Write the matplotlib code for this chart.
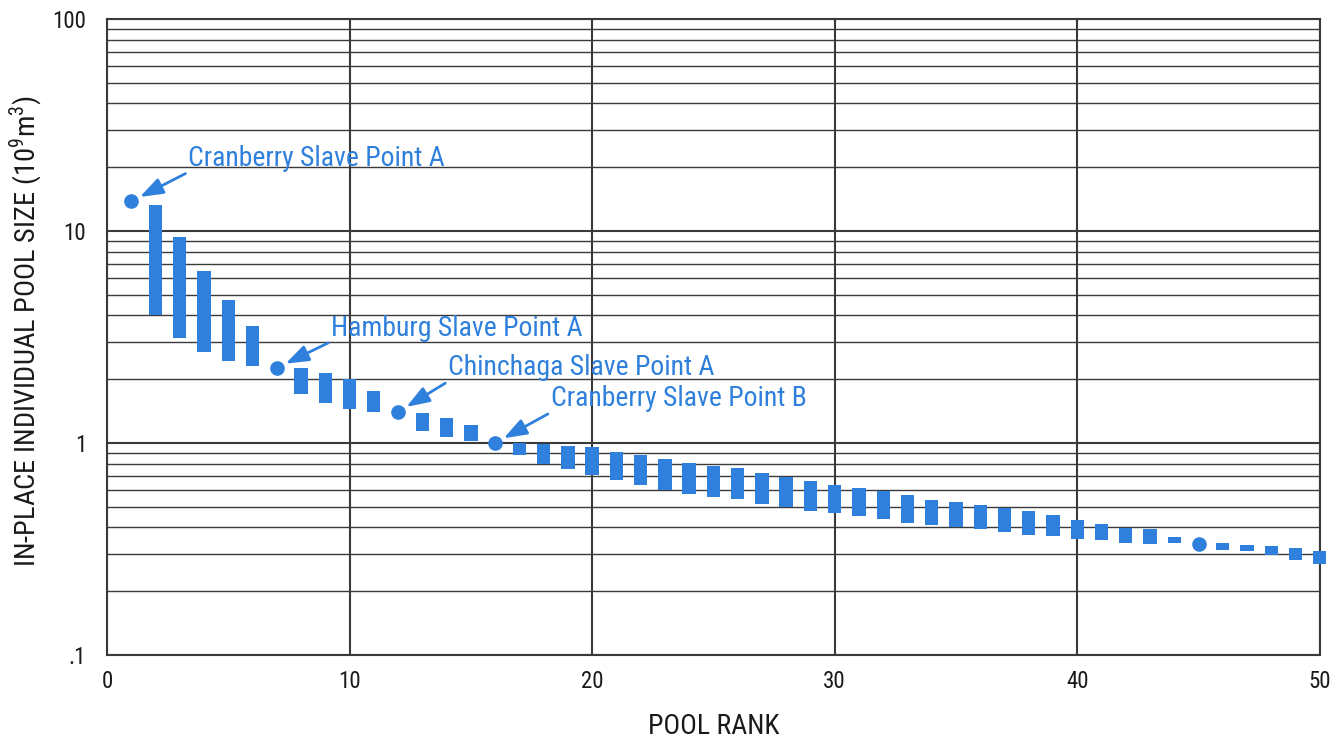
import numpy as np
import matplotlib
matplotlib.use('Agg')
import matplotlib.pyplot as plt
from matplotlib import font_manager
from matplotlib.ticker import FixedLocator, NullFormatter, FixedFormatter

# ==========================================
# DATA
# ==========================================
bar_rank = [2, 3, 4, 5, 6, 8, 9, 10, 11, 13, 14, 15,
            17, 18, 19, 20, 21, 22, 23, 24, 25, 26, 27, 28, 29, 30,
            31, 32, 33, 34, 35, 36, 37, 38, 39, 40, 41, 42, 43, 44,
            46, 47, 48, 49, 50]
bar_high = [13.2, 9.37, 6.48, 4.73, 3.56, 2.27, 2.15, 2.01, 1.75, 1.38, 1.31, 1.22,
            1.00, 0.99, 0.968, 0.954, 0.907, 0.881, 0.841, 0.805, 0.777, 0.763, 0.722,
            0.691, 0.660, 0.632, 0.614, 0.592, 0.567, 0.541, 0.527, 0.512, 0.494,
            0.477, 0.456, 0.435, 0.415, 0.398, 0.391, 0.362,
            0.336, 0.330, 0.325, 0.318, 0.311]
bar_low = [4.02, 3.12, 2.68, 2.43, 2.30, 1.70, 1.54, 1.45, 1.40, 1.135, 1.064, 1.02,
           0.875, 0.80, 0.757, 0.705, 0.669, 0.636, 0.599, 0.575, 0.555, 0.547, 0.516,
           0.498, 0.480, 0.468, 0.452, 0.438, 0.420, 0.412, 0.401, 0.391, 0.381,
           0.370, 0.363, 0.353, 0.348, 0.338, 0.334, 0.336,
           0.313, 0.309, 0.296, 0.282, 0.270]

dot_rank = [1, 7, 12, 16, 45]
dot_value = [13.8, 2.26, 1.40, 1.0, 0.334]

# named pools and the rank of the dot each one points at
pool_names = ['Cranberry Slave Point A', 'Hamburg Slave Point A',
              'Chinchaga Slave Point A', 'Cranberry Slave Point B']
pool_rank = [1, 7, 12, 16]

x_ticks = [0, 10, 20, 30, 40, 50]
y_ticks = [0.1, 1, 10, 100]
y_tick_labels = ['.1', '1', '10', '100']

BLUE = '#2f80dc'
GRID = '#3a3a3a'
INK = '#1a1a1a'

# pick a narrow sans if one is installed
installed = {f.name for f in font_manager.fontManager.ttflist}
narrow = None
for cand in ['Liberation Sans Narrow', 'Roboto Condensed', 'Open Sans Condensed',
             'Noto Sans Condensed', 'DejaVu Sans Condensed', 'Arial Narrow']:
    if cand in installed:
        narrow = cand
        break
if narrow is None:
    for f in font_manager.fontManager.ttflist:
        if ('Narrow' in f.name or 'Condensed' in f.name) and 'Mono' not in f.name:
            narrow = f.name
            break
FONT = [narrow, 'DejaVu Sans'] if narrow else ['DejaVu Sans']

plt.rcParams['font.family'] = FONT
plt.rcParams['font.stretch'] = 'condensed'
plt.rcParams['mathtext.fontset'] = 'custom'
plt.rcParams['mathtext.rm'] = FONT[0]

fig = plt.figure(figsize=(13.44, 7.38), dpi=100)
ax = fig.add_axes([0.0796, 0.1125, 0.9024, 0.8617])

heights = np.array(bar_high) - np.array(bar_low)
ax.bar(bar_rank, heights, bottom=bar_low, width=0.55, color=BLUE,
       zorder=3, clip_on=False)
ax.plot(dot_rank, dot_value, 'o', color=BLUE, markersize=9.5,
        zorder=4, clip_on=False)

ax.set_yscale('log')
ax.set_xlim(0, 50)
ax.set_ylim(0.1, 100)

ax.xaxis.set_major_locator(FixedLocator(x_ticks))
ax.yaxis.set_major_locator(FixedLocator(y_ticks))
ax.yaxis.set_major_formatter(FixedFormatter(y_tick_labels))
minor = [m * 10.0 ** e for e in (-1, 0, 1) for m in range(2, 10)]
ax.yaxis.set_minor_locator(FixedLocator(minor))
ax.yaxis.set_minor_formatter(NullFormatter())

ax.grid(True, which='major', axis='both', color=GRID, linewidth=1.5, zorder=1)
ax.grid(True, which='minor', axis='y', color=GRID, linewidth=1.0, zorder=1)
ax.tick_params(which='both', length=0, labelsize=16.5, colors=INK)
ax.tick_params(axis='x', pad=11)
ax.tick_params(axis='y', pad=15)
for s in ax.spines.values():
    s.set_color(GRID)
    s.set_linewidth(1.5)

ax.set_xlabel('POOL RANK', fontsize=20, color=INK, labelpad=14)
ax.set_ylabel(r'IN-PLACE INDIVIDUAL POOL SIZE (10$^9$m$^3$)', fontsize=20.5,
              color=INK)
ax.yaxis.set_label_coords(-0.051, 0.509)

# text offsets from the pointed-at dot, in points
offsets = [(41, 21), (39, 19), (36, 22), (40, 22)]
for name, r, off in zip(pool_names, pool_rank, offsets):
    v = dot_value[dot_rank.index(r)]
    ax.annotate(name, xy=(r, v), xytext=off, textcoords='offset points',
                fontsize=20, color=BLUE, va='bottom', ha='left',
                arrowprops=dict(arrowstyle='-|>,head_length=0.7,head_width=0.25',
                                color=BLUE, lw=2, shrinkA=0, shrinkB=7,
                                relpos=(0, 0)),
                zorder=5)

fig.savefig('out.png', dpi=100, facecolor='white')
